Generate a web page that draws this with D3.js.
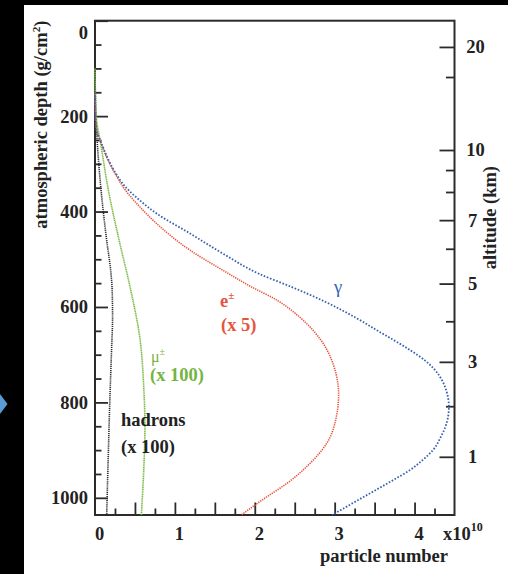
<!DOCTYPE html>
<html>
<head>
<meta charset="utf-8">
<script src="https://cdn.jsdelivr.net/npm/d3@7"></script>
<style>
  body { margin: 0; background: #000; }
  svg text { font-family: "Liberation Serif", "Times New Roman", serif; font-weight: bold; fill: #222; }
</style>
</head>
<body>
<svg id="chart" width="508" height="574"></svg>
<script>
// values: atmospheric depth (g/cm2) -> particle number (x1e10)
const gammaDepth = [150, 200, 230, 257, 292, 320, 348, 375, 404, 446, 488, 531, 558, 589, 624, 652, 670, 691, 712, 733, 754, 774, 810, 844, 872, 900, 921, 942, 963, 977, 1005, 1036]
const gammaN     = [0, 0.005, 0.02, 0.08, 0.17, 0.26, 0.38, 0.55, 0.77, 1.19, 1.6, 2.06, 2.46, 2.88, 3.28, 3.56, 3.745, 3.95, 4.13, 4.26, 4.345, 4.395, 4.43, 4.4, 4.33, 4.23, 4.1, 3.94, 3.73, 3.585, 3.29, 2.97]

const electronDepth = [150, 200, 230, 257, 292, 320, 355, 390, 425, 481, 523, 558, 586, 621, 670, 719, 761, 782, 831, 886, 928, 970, 998, 1036]
const electronN     = [0, 0.005, 0.02, 0.08, 0.16, 0.25, 0.38, 0.56, 0.77, 1.19, 1.6, 1.96, 2.28, 2.56, 2.83, 2.98, 3.04, 3.05, 3.02, 2.9, 2.69, 2.4, 2.15, 1.83]

const muonDepth = [100, 160, 208, 257, 362, 466, 559, 663, 768, 852, 942, 1036]
const muonN     = [0, 0.005, 0.02, 0.07, 0.175, 0.31, 0.44, 0.56, 0.61, 0.625, 0.61, 0.58]

const hadronDepth = [100, 230, 369, 460, 523, 565, 620, 700, 800, 900, 1036]
const hadronN     = [0, 0.02, 0.084, 0.146, 0.196, 0.215, 0.22, 0.205, 0.185, 0.168, 0.146]

// right axis: altitude (km) placed at the depth
const altitudeKm    = [20, 15, 10, 9, 8, 7, 6, 5, 4, 3, 2, 1]
const altitudeDepth = [55, 118, 271, 313, 359, 418, 478, 551, 630, 715, 808, 914]
const altitudeLabeled = [20, 10, 7, 5, 3, 1]

const depthTicks = [0, 200, 400, 600, 800, 1000]
const numberTicks = [0, 1, 2, 3, 4]

const frame = {left: 95, top: 20.7, right: 454.5, bottom: 515}

const svg = d3.select('#chart')

// slide background
svg.append('rect').attr('width', 508).attr('height', 574).attr('fill', '#000')
svg.append('rect').attr('x', 24).attr('y', 5).attr('width', 484).attr('height', 569).attr('fill', '#fff')
svg.append('path').attr('d', 'M0,394L7.5,404L0,414Z').attr('fill', '#5b9bd5')

const x = d3.scaleLinear().domain([0, 4.5]).range([frame.left, frame.right])
const y = d3.scaleLinear().domain([0, 1036]).range([frame.top, frame.bottom])

const styleAxis = g => {
    g.select('.domain').remove()
    g.selectAll('.tick line').attr('stroke', '#2b2b2b').attr('stroke-width', 1.8)
    g.selectAll('.tick text').attr('font-size', 18.5).attr('font-family', null).attr('fill', '#222')
}

// left axis: depth
svg.append('g')
    .attr('transform', `translate(${frame.left},0)`)
    .call(d3.axisLeft(y).tickValues(d3.range(50, 1001, 50).filter(d => d % 200)).tickSizeInner(-6.5).tickFormat(''))
    .call(styleAxis)
svg.append('g')
    .attr('transform', `translate(${frame.left},0)`)
    .call(d3.axisLeft(y).tickValues(depthTicks).tickSizeInner(-13).tickPadding(7).tickFormat(d3.format('d')))
    .call(styleAxis)
    .call(g => g.selectAll('.tick text').attr('dy', d => d === 0 ? '0.95em' : '0.32em'))

// bottom axis: particle number
svg.append('g')
    .attr('transform', `translate(0,${frame.bottom})`)
    .call(d3.axisBottom(x).tickValues(d3.range(0.25, 4.5, 0.5)).tickSizeInner(-6.5).tickFormat(''))
    .call(styleAxis)
svg.append('g')
    .attr('transform', `translate(0,${frame.bottom})`)
    .call(d3.axisBottom(x).tickValues(d3.range(0.5, 4.5, 0.5)).tickSizeInner(-12.5).tickFormat(''))
    .call(styleAxis)
svg.append('g')
    .attr('transform', `translate(0,${frame.bottom})`)
    .call(d3.axisBottom(x).tickValues(numberTicks).tickSize(0).tickPadding(12).tickFormat(d3.format('d')))
    .call(styleAxis)
    .call(g => g.selectAll('.tick text').attr('dx', 4))

// right axis: altitude
const altLabel = new Map(altitudeDepth.map((d, i) => [d, altitudeKm[i]]))
const isMajor = d => altitudeLabeled.includes(altLabel.get(d))
svg.append('g')
    .attr('transform', `translate(${frame.right},0)`)
    .call(d3.axisRight(y).tickValues(altitudeDepth.filter(d => !isMajor(d))).tickSizeInner(-8.5).tickFormat(''))
    .call(styleAxis)
svg.append('g')
    .attr('transform', `translate(${frame.right},0)`)
    .call(d3.axisRight(y).tickValues(altitudeDepth.filter(isMajor)).tickSizeInner(-15)
        .tickFormat(d => altLabel.get(d)))
    .call(styleAxis)
    .call(g => g.selectAll('.tick text').attr('text-anchor', 'middle').attr('x', d => altLabel.get(d) >= 10 ? 21 : 18))

// frame
svg.append('rect')
    .attr('x', frame.left).attr('y', frame.top)
    .attr('width', frame.right - frame.left).attr('height', frame.bottom - frame.top)
    .attr('fill', 'none').attr('stroke', '#2b2b2b').attr('stroke-width', 2)

// curves
const series = [
    {depth: hadronDepth, n: hadronN, color: '#2a2a2a', width: 1.6, dash: '1.2 0.9'},
    {depth: muonDepth, n: muonN, color: '#7dbd4c', width: 1.6, dash: '1.3 0.5'},
    {depth: electronDepth, n: electronN, color: '#e5553d', width: 1.6, dash: '1.3 1.0'},
    {depth: gammaDepth, n: gammaN, color: '#3461b0', width: 1.8, dash: '1.6 1.7'}
]

const line = d3.line()
    .x(d => x(d[1]))
    .y(d => y(d[0]))
    .curve(d3.curveMonotoneY)

svg.append('g').selectAll('path')
    .data(series)
    .join('path')
    .attr('d', s => line(s.depth.map((d, i) => [d, s.n[i]])))
    .attr('fill', 'none')
    .attr('stroke', s => s.color)
    .attr('stroke-width', s => s.width)
    .attr('stroke-dasharray', s => s.dash)

// curve labels
const labels = svg.append('g').attr('font-size', 18.5)

labels.append('text').attr('x', 338).attr('y', 293).attr('text-anchor', 'middle')
    .style('font-weight', 'normal').style('fill', '#3461b0').text('γ')

const eLab = labels.append('text').attr('x', 220).attr('y', 307).style('fill', '#e5553d')
eLab.append('tspan').text('e')
eLab.append('tspan').attr('dy', -8).attr('font-size', 11).text('±')
labels.append('text').attr('x', 221).attr('y', 331).style('fill', '#e5553d').text('(x 5)')

const muLab = labels.append('text').attr('x', 151).attr('y', 362).attr('font-size', 16).style('fill', '#74b443')
muLab.append('tspan').style('font-weight', 'normal').text('μ')
muLab.append('tspan').attr('dy', -7).attr('font-size', 10).style('font-weight', 'normal').text('±')
labels.append('text').attr('x', 150).attr('y', 381).style('fill', '#74b443').text('(x 100)')

labels.append('text').attr('x', 121).attr('y', 426).text('hadrons')
labels.append('text').attr('x', 121).attr('y', 452.5).text('(x 100)')

// axis titles
const yTitle = svg.append('text')
    .attr('transform', `translate(47,${frame.top}) rotate(-90)`)
    .attr('text-anchor', 'end').attr('font-size', 18.5)
yTitle.append('tspan').text('atmospheric depth (g/cm')
yTitle.append('tspan').attr('dy', -7).attr('font-size', 11).text('2')
yTitle.append('tspan').attr('dy', 7).text(')')

svg.append('text')
    .attr('transform', 'translate(496,166) rotate(-90)')
    .attr('text-anchor', 'end').attr('font-size', 18.5)
    .text('altitude (km)')

svg.append('text')
    .attr('x', 448).attr('y', 562).attr('text-anchor', 'end').attr('font-size', 18.5)
    .text('particle number')

const unit = svg.append('text').attr('x', 443).attr('y', 540).attr('font-size', 18.5)
unit.append('tspan').text('x10')
unit.append('tspan').attr('dy', -9).attr('font-size', 12).text('10')
</script>
</body>
</html>
